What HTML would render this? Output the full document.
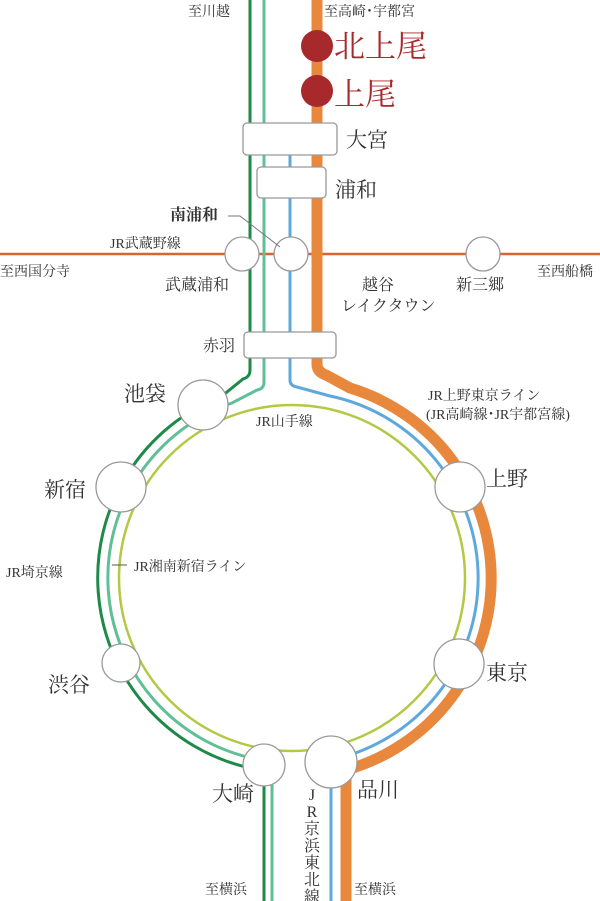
<!DOCTYPE html>
<html><head><meta charset="utf-8"><style>
html,body{margin:0;padding:0;background:#fff;}
svg{display:block;}
text{font-family:"Liberation Serif","Noto Serif CJK JP","Noto Serif CJK SC",serif;fill:#333;}
</style></head><body>
<svg width="600" height="901" viewBox="0 0 600 901" xmlns="http://www.w3.org/2000/svg">
<line x1="0" y1="254" x2="600" y2="254" stroke="#d8642f" stroke-width="2.5"/>
<circle cx="292" cy="578" r="173" fill="none" stroke="#b3c843" stroke-width="2.5"/>
<path d="M250,0 V370 Q250,377 243,379 L222,396 A195,195 0 0 0 250,768 L264,782 V901" fill="none" stroke="#1d8a48" stroke-width="3"/>
<path d="M264,0 V382 Q264,389 257,390 L232,403 A185,185 0 0 0 256,759 L272,773 V901" fill="none" stroke="#5fbf96" stroke-width="3"/>
<path d="M290,155 V380 Q290,386 297,387 L330,396 A186,186 0 0 1 331,760 V901" fill="none" stroke="#5ea9dc" stroke-width="3"/>
<path d="M317,0 V364 Q317,372 326,375 L350,388 A199,199 0 0 1 346,770 V901" fill="none" stroke="#e8883d" stroke-width="11"/>
<circle cx="317" cy="46" r="16" fill="#a8292b"/>
<circle cx="317" cy="91" r="16" fill="#a8292b"/>
<g fill="#fff" stroke="#999" stroke-width="1.3">
<rect x="243" y="123" width="94" height="32" rx="4"/>
<rect x="257" y="167" width="69" height="31" rx="4"/>
<rect x="244" y="332" width="92" height="26" rx="4"/>
<circle cx="242" cy="254" r="17"/>
<circle cx="291" cy="254" r="17"/>
<circle cx="483" cy="254" r="17"/>
<circle cx="203" cy="405" r="25"/>
<circle cx="121" cy="487" r="25"/>
<circle cx="121" cy="663" r="19"/>
<circle cx="460" cy="487" r="25"/>
<circle cx="459" cy="664" r="25"/>
<circle cx="264" cy="765" r="21"/>
<circle cx="331" cy="762" r="26"/>
</g>
<polyline points="228,216 240,216 280,247" fill="none" stroke="#777" stroke-width="1"/>
<line x1="112" y1="565" x2="127" y2="565" stroke="#555" stroke-width="1"/>
<g font-size="14">
<text x="188" y="16">至川越</text>
<text x="324" y="16">至高崎･宇都宮</text>
<text x="0" y="276">至西国分寺</text>
<text x="537" y="276">至西船橋</text>
<text x="110" y="248">JR武蔵野線</text>
<text x="256" y="426">JR山手線</text>
<text x="428" y="400">JR上野東京ライン</text>
<text x="426" y="419">(JR高崎線･JR宇都宮線)</text>
<text x="6" y="577">JR埼京線</text>
<text x="134" y="571">JR湘南新宿ライン</text>
<text x="205" y="894">至横浜</text>
<text x="354" y="894">至横浜</text>
</g>
<g font-size="16">
<text x="170" y="220" font-weight="bold">南浦和</text>
<text x="165" y="290">武蔵浦和</text>
<text x="362" y="290">越谷</text>
<text x="341" y="311">レイクタウン</text>
<text x="456" y="290">新三郷</text>
<text x="203" y="351">赤羽</text>
</g>
<g font-size="16" text-anchor="middle">
<text x="312" y="800">J</text><text x="312" y="817">R</text><text x="312" y="834">京</text><text x="312" y="851">浜</text><text x="312" y="868">東</text><text x="312" y="885">北</text><text x="312" y="902">線</text>
</g>
<g font-size="21">
<text x="346" y="147">大宮</text>
<text x="335" y="197">浦和</text>
<text x="124" y="401">池袋</text>
<text x="44" y="497">新宿</text>
<text x="48" y="692">渋谷</text>
<text x="486" y="486">上野</text>
<text x="486" y="680">東京</text>
<text x="212" y="801">大崎</text>
<text x="357" y="797">品川</text>
</g>
<g font-size="31">
<text x="334" y="57" style="fill:#a8292b">北上尾</text>
<text x="334" y="105" style="fill:#a8292b">上尾</text>
</g>
</svg>
</body></html>
